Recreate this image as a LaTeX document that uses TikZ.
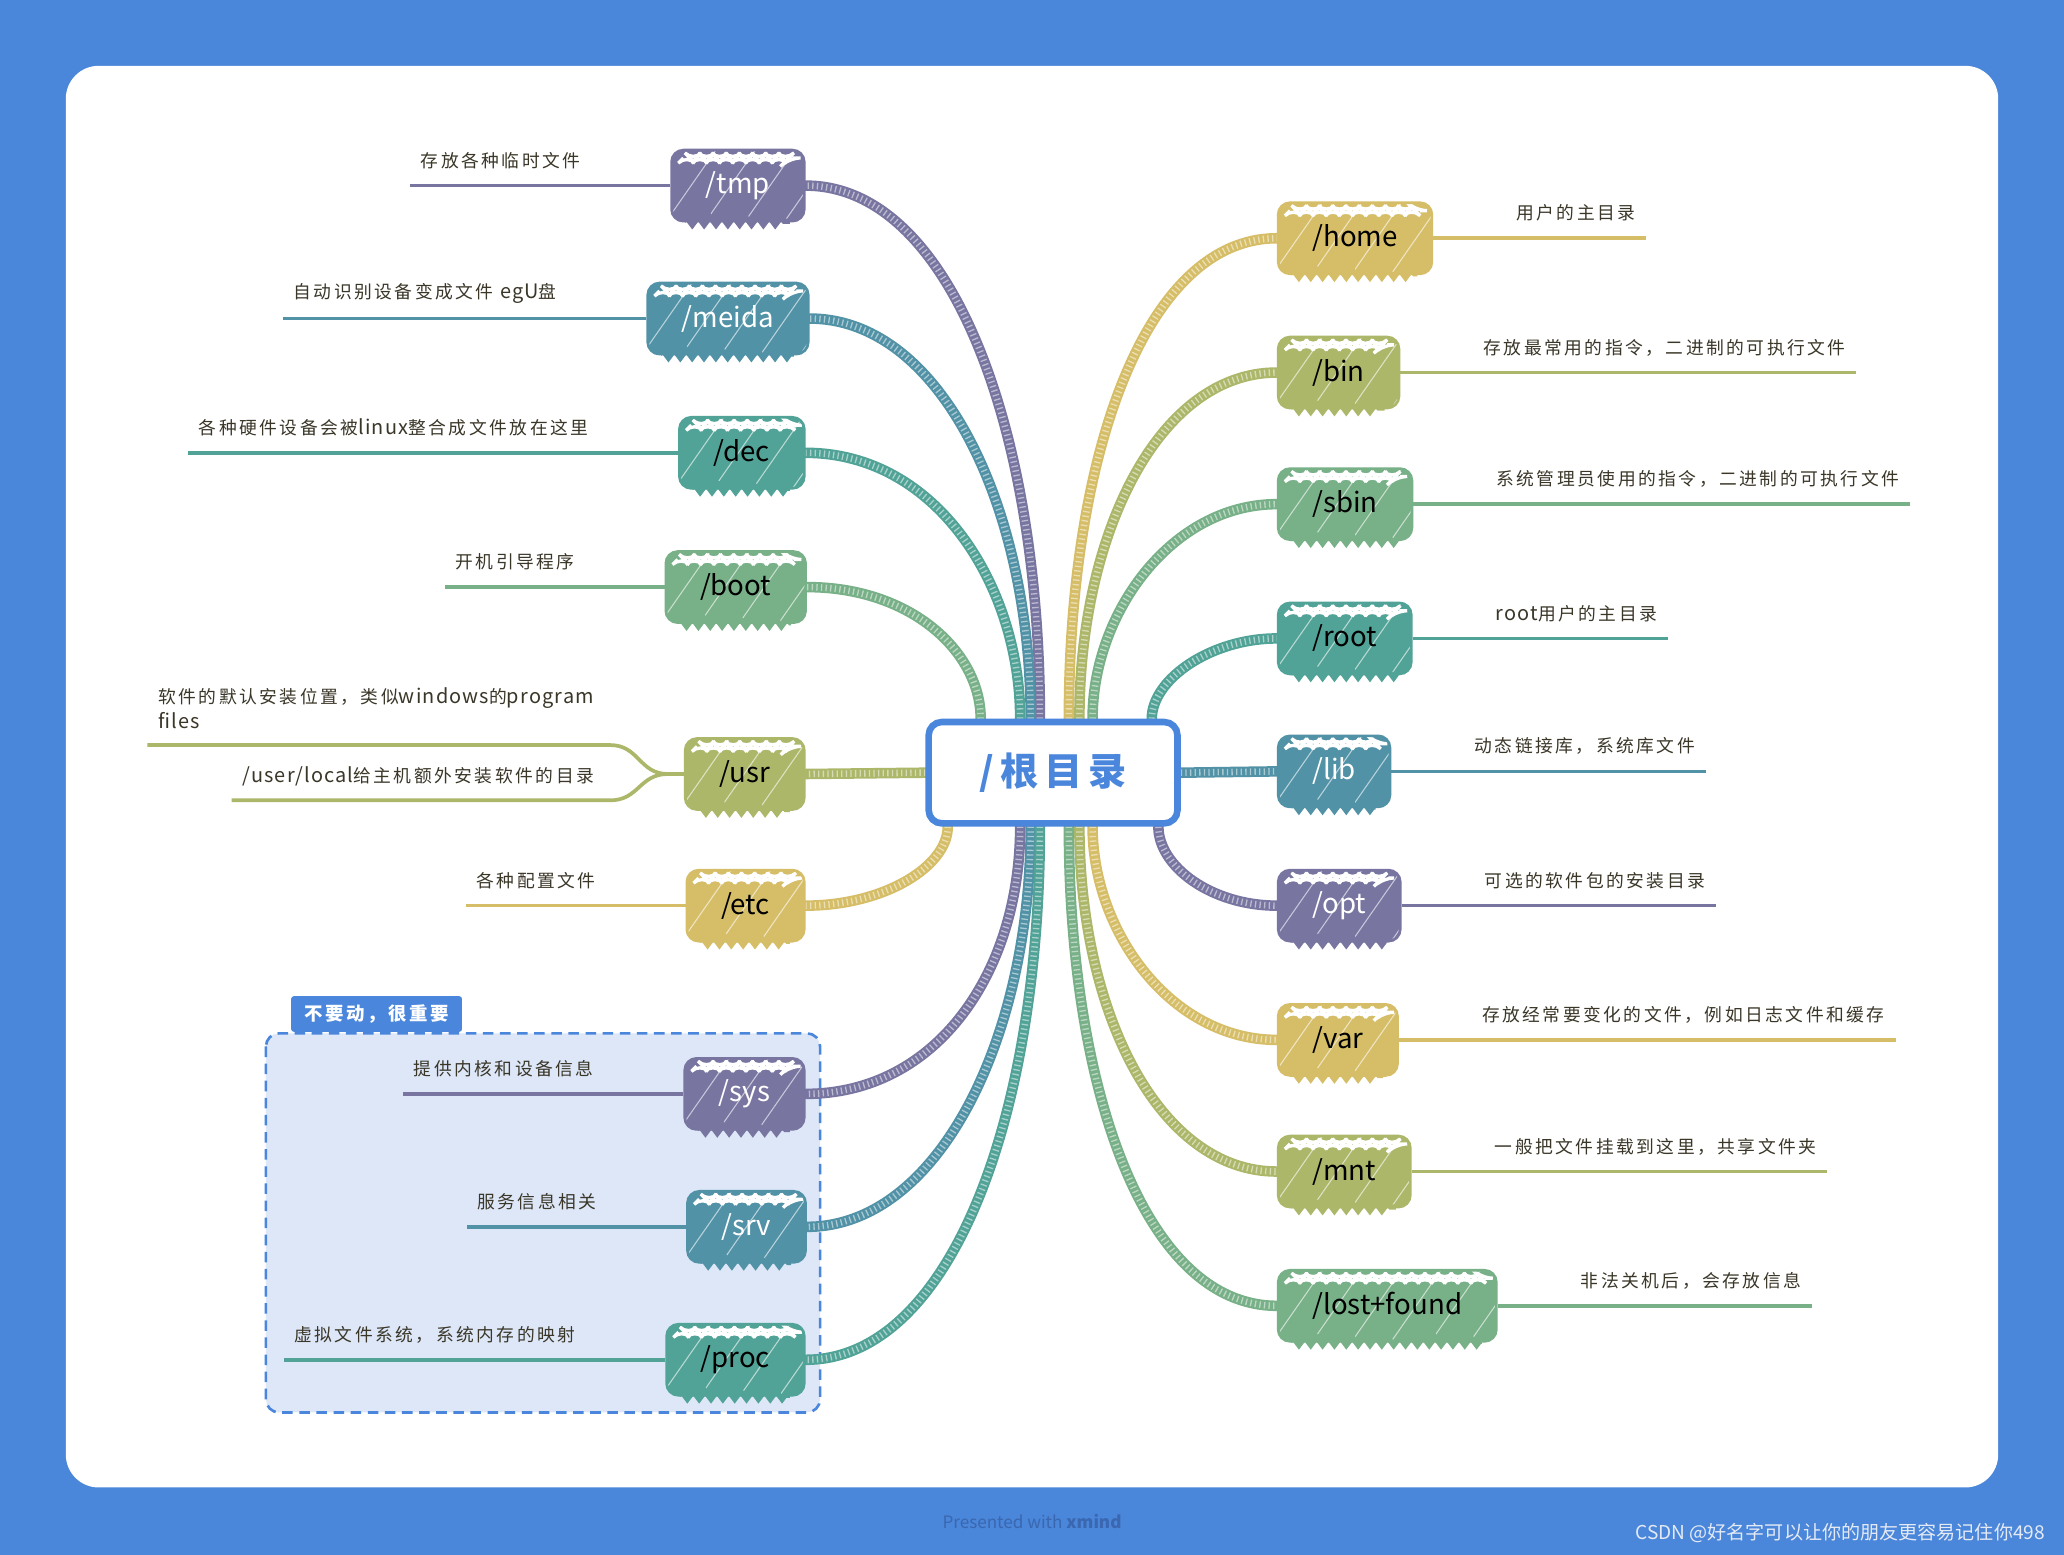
\documentclass[tikz,border=0pt]{standalone}
\usepackage{fontspec}
\setmainfont{Noto Sans CJK SC}
\newfontfamily\descfont[LetterSpace=14]{Noto Sans CJK SC}
\newfontfamily\latfont[Scale=1.12, LetterSpace=6]{Noto Sans CJK SC}
\newfontfamily\genfont[LetterSpace=16]{Noto Sans CJK SC}
\usetikzlibrary{positioning,decorations.pathmorphing}

\pgfdeclarelayer{bg}
\pgfdeclarelayer{edges}
\pgfsetlayers{bg,edges,main}

\definecolor{bgblue}{RGB}{74,134,217}
\definecolor{genblue}{RGB}{74,134,219}
\definecolor{grpfill}{RGB}{221,231,248}
\definecolor{footblue}{RGB}{58,103,175}
\definecolor{csdngrey}{RGB}{228,234,245}
\definecolor{desctext}{RGB}{58,54,40}
\definecolor{purp}{RGB}{120,117,161}
\definecolor{tblue}{RGB}{82,146,166}
\definecolor{teal}{RGB}{82,163,151}
\definecolor{green}{RGB}{120,176,136}
\definecolor{olive}{RGB}{173,183,106}
\definecolor{yellow}{RGB}{214,190,104}

\tikzset{
  dirnode/.style={rounded corners=9pt, fill=#1, draw=#1, line width=2pt,
    minimum height=54pt, inner xsep=26pt, inner ysep=0pt,
    font=\fontsize{21}{21}\selectfont,
    path picture={
      \foreach \k in {0,...,7}
        \draw[white, opacity=0.6, line width=0.8pt]
          ([xshift=\k*30pt-34pt]path picture bounding box.south west) -- ++(46pt,66pt);
      \draw[white, line width=2.5pt, decorate, decoration={zigzag, segment length=10pt, amplitude=2.5pt}]
        ([xshift=9pt,yshift=-6pt]path picture bounding box.north west)
        -- ([xshift=-9pt,yshift=-6pt]path picture bounding box.north east);
    }},
  gennode/.style={draw=genblue, fill=white, line width=5pt, rounded corners=10pt,
    minimum width=189pt, minimum height=77pt,
    font=\genfont\bfseries\fontsize{29}{29}\selectfont, text=genblue},
  desc/.style={font=\descfont\fontsize{13.5}{19}\selectfont, text=desctext,
    inner xsep=8pt, inner ysep=2pt},
  descline/.style={draw=#1, line width=2.8pt},
  branch/.style={draw=#1, line width=8pt, line cap=round,
    postaction={draw=white, line width=5pt, line cap=butt,
      dash pattern=on 1pt off 2.5pt, draw opacity=0.5}},
  grptab/.style={fill=genblue, text=white, rounded corners=2pt,
    font=\descfont\bfseries\fontsize{14}{14}\selectfont,
    minimum height=27pt, inner xsep=10pt}
}

\begin{document}
\begin{tikzpicture}[x=1pt,y=-1pt]
\useasboundingbox (0,0) rectangle (1568,1181);

\begin{pgfonlayer}{bg}
\fill[bgblue] (0,0) rectangle (1568,1181);
\fill[white, rounded corners=25pt] (50,50) rectangle (1518,1130);
\draw[genblue, fill=grpfill, line width=2pt, rounded corners=10pt, dash pattern=on 8pt off 5pt]
  (202,785) rectangle (623,1073);
\end{pgfonlayer}

\node[gennode] (gen) at (800,587) {/根目录};

\node[dirnode=purp, text=white, anchor=east] (tmp) at (612,141) {/tmp};
\node[dirnode=tblue, text=white, anchor=east] (meida) at (615,242) {/meida};
\node[dirnode=teal, anchor=east] (dec) at (612,344) {/dec};
\node[dirnode=green, anchor=east] (boot) at (613,446) {/boot};
\node[dirnode=olive, anchor=east] (usr) at (612,588) {/usr};
\node[dirnode=yellow, anchor=east] (etc) at (612,688) {/etc};
\node[dirnode=purp, text=white, anchor=east] (sys) at (612,831) {/sys};
\node[dirnode=tblue, text=white, anchor=east] (srv) at (613,932) {/srv};
\node[dirnode=teal, anchor=east] (proc) at (612,1033) {/proc};

\node[dirnode=yellow, anchor=west] (home) at (970,181) {/home};
\node[dirnode=olive, anchor=west] (bin) at (970,283) {/bin};
\node[dirnode=green, anchor=west] (sbin) at (970,383) {/sbin};
\node[dirnode=teal, anchor=west] (rt) at (970,485) {/root};
\node[dirnode=tblue, text=white, anchor=west] (lib) at (970,586) {/lib};
\node[dirnode=purp, text=white, anchor=west] (opt) at (970,688) {/opt};
\node[dirnode=yellow, anchor=west] (var) at (970,790) {/var};
\node[dirnode=olive, anchor=west] (mnt) at (970,890) {/mnt};
\node[dirnode=green, anchor=west] (lost) at (970,992) {/lost+found};

\foreach \nd/\cl in {tmp/purp, meida/tblue, dec/teal, boot/green, usr/olive, etc/yellow,
  sys/purp, srv/tblue, proc/teal, home/yellow, bin/olive, sbin/green, rt/teal,
  lib/tblue, opt/purp, var/yellow, mnt/olive, lost/green}
  \draw[\cl, line width=4pt, decorate, decoration={zigzag, segment length=9pt, amplitude=3pt}]
    ([xshift=10pt,yshift=1pt]\nd.south west) -- ([xshift=-12pt,yshift=1pt]\nd.south east);

\node[desc, left=60pt of tmp, yshift=19pt] (tmpd) {存放各种临时文件};
\node[desc, left=60pt of meida, yshift=19pt] (meidad) {自动识别设备变成文件 {\latfont egU}盘};
\node[desc, left=60pt of dec, yshift=19pt] (decd) {各种硬件设备会被{\latfont linux}整合成文件放在这里};
\node[desc, left=60pt of boot, yshift=19pt] (bootd) {开机引导程序};
\node[desc, left=60pt of usr, yshift=50pt, align=left] (usrda) {软件的默认安装位置，类似{\latfont windows}的{\latfont program}\\{\latfont files}};
\node[desc, left=60pt of usr, yshift=-2pt] (usrdb) {{\latfont /user/local}给主机额外安装软件的目录};
\node[desc, left=60pt of etc, yshift=19pt] (etcd) {各种配置文件};
\node[desc, left=60pt of sys, yshift=19pt] (sysd) {提供内核和设备信息};
\node[desc, left=60pt of srv, yshift=19pt] (srvd) {服务信息相关};
\node[desc, left=60pt of proc, yshift=19pt] (procd) {虚拟文件系统，系统内存的映射};

\node[desc, right=55pt of home, yshift=19pt] (homed) {用户的主目录};
\node[desc, right=55pt of bin, yshift=19pt] (bind) {存放最常用的指令，二进制的可执行文件};
\node[desc, right=55pt of sbin, yshift=19pt] (sbind) {系统管理员使用的指令，二进制的可执行文件};
\node[desc, right=55pt of rt, yshift=19pt] (rtd) {{\latfont root}用户的主目录};
\node[desc, right=55pt of lib, yshift=19pt] (libd) {动态链接库，系统库文件};
\node[desc, right=55pt of opt, yshift=19pt] (optd) {可选的软件包的安装目录};
\node[desc, right=55pt of var, yshift=19pt] (vard) {存放经常要变化的文件，例如日志文件和缓存};
\node[desc, right=55pt of mnt, yshift=19pt] (mntd) {一般把文件挂载到这里，共享文件夹};
\node[desc, right=55pt of lost, yshift=19pt] (lostd) {非法关机后，会存放信息};

\foreach \nd/\cl in {tmp/purp, meida/tblue, dec/teal, boot/green, etc/yellow,
  sys/purp, srv/tblue, proc/teal}
  \draw[descline=\cl] (\nd.west) -- (\nd d.west |- \nd.west);
\foreach \nd/\cl in {home/yellow, bin/olive, sbin/green, rt/teal, lib/tblue,
  opt/purp, var/yellow, mnt/olive, lost/green}
  \draw[descline=\cl] (\nd.east) -- (\nd d.east |- \nd.east);

\coordinate (usrj) at ([xshift=-12pt]usr.west);
\coordinate (usrup) at ([xshift=-44pt,yshift=22pt]usrj);
\coordinate (usrlo) at ([xshift=-44pt,yshift=-20pt]usrj);
\draw[descline=olive] (usr.west) -- (usrj) .. controls +(-22,0) and +(22,0) .. (usrup) -- (usrda.west |- usrup);
\draw[descline=olive] (usrj) .. controls +(-22,0) and +(22,0) .. (usrlo) -- (usrdb.west |- usrlo);

\node[grptab, anchor=south west] (grp) at (221,784) {不要动，很重要};

\begin{pgfonlayer}{edges}
\foreach \nd/\cl/\an/\sh/\cu/\cv/\en in {
  tmp/purp/north/-10/-220/110/east, meida/tblue/north/-17/-160/100/east,
  dec/teal/north/-25/-100/100/east, boot/green/north/-55/-50/80/east,
  etc/yellow/south/-80/30/60/east, sys/purp/south/-25/110/100/east,
  srv/tblue/south/-17/160/100/east, proc/teal/south/-10/220/110/east,
  home/yellow/north/12/-200/-100/west, bin/olive/north/20/-140/-90/west,
  sbin/green/north/30/-80/-80/west, rt/teal/north/75/-30/-50/west,
  opt/purp/south/80/30/-50/west, var/yellow/south/30/80/-80/west,
  mnt/olive/south/20/140/-90/west, lost/green/south/12/200/-100/west}
  \draw[branch=\cl] ([xshift=\sh]gen.\an) .. controls +(0,\cu) and +(\cv,0) .. (\nd.\en);
\draw[branch=olive] (gen.west) -- (usr.east);
\draw[branch=tblue] (gen.east) -- (lib.west);
\end{pgfonlayer}

\node[text=footblue, font=\fontsize{13}{13}\selectfont] (xm) at (784,1156) {Presented with \textbf{xmind}};
\node[text=csdngrey, font=\fontsize{14.5}{15}\selectfont, anchor=east] (csdn) at (1557,1165) {CSDN @好名字可以让你的朋友更容易记住你498};
\end{tikzpicture}
\end{document}
